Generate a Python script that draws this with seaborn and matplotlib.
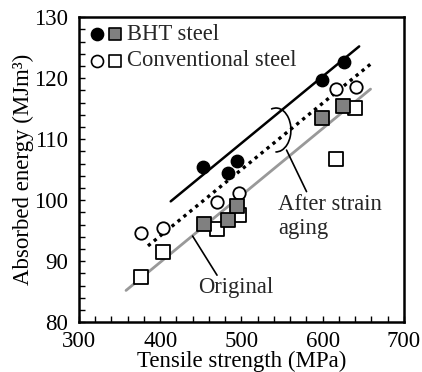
import matplotlib
matplotlib.use("Agg")
import matplotlib.pyplot as plt
from matplotlib.patches import Arc
from matplotlib.ticker import MultipleLocator
import seaborn as sns

# data
bht_after_ts = [453, 483, 494, 599, 626]
bht_after_e = [105.4, 104.4, 106.4, 119.7, 122.6]
conv_after_ts = [377, 403, 470, 497, 616, 641]
conv_after_e = [94.6, 95.4, 99.7, 101.1, 118.2, 118.5]
bht_orig_ts = [454, 483, 494, 599, 625]
bht_orig_e = [96.1, 96.7, 99.0, 113.4, 115.4]
conv_orig_ts = [377, 403, 470, 497, 616, 640]
conv_orig_e = [87.4, 91.5, 95.3, 97.5, 106.7, 115.1]

# fitted trend lines (end points)
fit_bht_x = [413, 645]
fit_bht_y = [99.8, 125.2]
fit_after_x = [385, 659]
fit_after_y = [92.5, 122.3]
fit_orig_x = [358, 659]
fit_orig_y = [85.2, 118.2]

sns.set_style("ticks")
plt.rcParams["font.family"] = ["Liberation Serif", "DejaVu Serif"]

fig = plt.figure(figsize=(4.22, 3.72), dpi=100)
ax = fig.add_axes([0.187, 0.134, 0.770, 0.820])

# trend lines
sns.lineplot(x=fit_orig_x, y=fit_orig_y, ax=ax, color="#999999", lw=2.0)
sns.lineplot(x=fit_after_x, y=fit_after_y, ax=ax, color="black", lw=2.4,
             linestyle=(0, (1, 1.3)))
sns.lineplot(x=fit_bht_x, y=fit_bht_y, ax=ax, color="black", lw=1.8)

ms_c = 80
ms_s = 95
sns.scatterplot(x=conv_after_ts, y=conv_after_e, ax=ax, marker="o", s=ms_c,
                facecolor="white", edgecolor="black", linewidth=1.3, zorder=3)
sns.scatterplot(x=conv_orig_ts, y=conv_orig_e, ax=ax, marker="s", s=ms_s,
                facecolor="white", edgecolor="black", linewidth=1.3, zorder=3)
sns.scatterplot(x=bht_orig_ts, y=bht_orig_e, ax=ax, marker="s", s=ms_s,
                facecolor="#808080", edgecolor="black", linewidth=1.3, zorder=4)
sns.scatterplot(x=bht_after_ts, y=bht_after_e, ax=ax, marker="o", s=ms_c,
                color="black", edgecolor="black", linewidth=1.0, zorder=4)

# legend drawn by hand
for yy, fc_c, fc_s, lab in [(0.943, "black", "#808080", "BHT steel"),
                            (0.857, "white", "white", "Conventional steel")]:
    ax.scatter([0.056], [yy], transform=ax.transAxes, marker="o", s=75,
               facecolor=fc_c, edgecolor="black", linewidth=1.2, zorder=5)
    ax.scatter([0.110], [yy], transform=ax.transAxes, marker="s", s=72,
               facecolor=fc_s, edgecolor="black", linewidth=1.2, zorder=5)
    ax.text(0.148, yy, lab, transform=ax.transAxes, fontsize=16.3,
            va="center", ha="left")

# annotations
ax.add_patch(Arc((542.5, 111.5), 37, 7.2, theta1=-100, theta2=150,
                 color="black", lw=1.2))
ax.plot([555.6, 580.2], [108.2, 101.4], color="black", lw=1.2)
ax.text(545, 99.3, "After strain", fontsize=16.3, va="center", ha="left")
ax.text(545, 95.3, "aging", fontsize=16.3, va="center", ha="left")
ax.plot([440, 470], [94.1, 87.7], color="black", lw=1.2)
ax.text(447, 85.7, "Original", fontsize=16.3, va="center", ha="left")

ax.set_xlim(300, 700)
ax.set_ylim(80, 130)
ax.xaxis.set_major_locator(MultipleLocator(100))
ax.xaxis.set_minor_locator(MultipleLocator(20))
ax.yaxis.set_major_locator(MultipleLocator(10))
ax.yaxis.set_minor_locator(MultipleLocator(2))
ax.tick_params(which="both", direction="in", length=4, width=1.0,
               color="black", labelcolor="black", labelsize=16.5)
ax.tick_params(axis="x", pad=6.5)
ax.tick_params(axis="y", pad=7.5)
for sp in ax.spines.values():
    sp.set_linewidth(1.8)
    sp.set_color("black")
    sp.set_visible(True)

ax.set_xlabel("Tensile strength (MPa)", fontsize=16.5, labelpad=-1,
              color="black")
ax.set_ylabel("Absorbed energy (MJm³)", fontsize=16.5, labelpad=0,
              color="black")

fig.savefig("out.png", dpi=100)
